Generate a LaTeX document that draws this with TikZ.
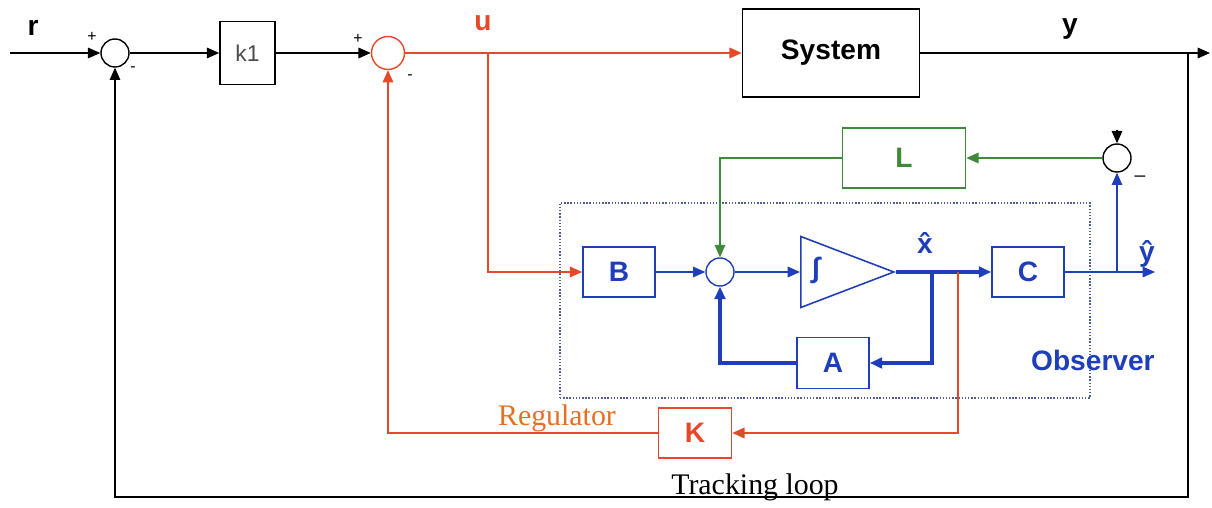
\documentclass[tikz,border=0pt]{standalone}
\usepackage{fontspec}
\setmainfont{Liberation Serif}
\setsansfont{Liberation Sans}
\usepackage{tikz}
\usetikzlibrary{
  arrows.meta,
  positioning,
  shapes.geometric,
  calc
}
\definecolor{regred}{RGB}{232, 72, 42}
\definecolor{regorange}{RGB}{228, 112, 36}
\definecolor{obsblue}{RGB}{30, 62, 186}
\definecolor{gaingreen}{RGB}{62, 138, 58}
\definecolor{dotgrey}{RGB}{80, 95, 150}

\begin{document}
\begin{tikzpicture}[
    block/.style={draw, line width=0.9pt, minimum width=1.44cm, minimum height=1cm,
      inner sep=0pt, font=\sffamily\bfseries\fontsize{16}{18}\selectfont},
    sumnode/.style={circle, draw, line width=0.8pt, minimum size=0.56cm, inner sep=0pt},
    sig/.style={-{Triangle[length=7pt, width=6pt]}, line width=0.8pt},
    thickline/.style={line width=1.8pt},
    signlbl/.style={font=\sffamily\fontsize{9}{10}\selectfont, inner sep=0pt},
    varlbl/.style={font=\sffamily\bfseries\fontsize{16}{18}\selectfont, inner sep=0pt},
    serlbl/.style={font=\fontsize{17}{19}\selectfont, inner sep=0pt}
  ]
  \useasboundingbox (0, 0) rectangle (24.24, 10.16);
  % ---------- OBSERVER FRAME ----------
  \node[draw=dotgrey, densely dotted, line width=0.8pt, minimum width=10.6cm,
    minimum height=3.9cm] (obsbox) at (16.5, 4.15) {};
  \node[varlbl, text=obsblue, anchor=east] (obslbl) at (23.1, 2.96) {Observer};

  % ---------- MAIN FORWARD PATH ----------
  \coordinate (rin) at (0.2, 9.1);
  \node[varlbl] (rlbl) at (0.66, 9.6) {r};
  \node[sumnode] (s1) at (2.3, 9.1) {};
  \node[signlbl] (s1p) at (1.84, 9.42) {+};
  \node[signlbl] (s1m) at (2.66, 8.78) {-};
  \node[block, minimum width=1.1cm, minimum height=1.26cm,
    font=\sffamily\fontsize{13}{15}\selectfont, text=black!70] (k1) at (4.95, 9.1) {k1};
  \node[sumnode, draw=regred, minimum size=0.66cm] (s2) at (7.76, 9.1) {};
  \node[signlbl] (s2p) at (7.16, 9.38) {+};
  \node[signlbl] (s2m) at (8.2, 8.62) {-};
  \node[varlbl, text=regred] (ulbl) at (9.66, 9.7) {u};
  \coordinate (ubr) at (9.76, 9.1);
  \node[block, minimum width=3.54cm, minimum height=1.76cm] (sys) at (16.62, 9.1) {System};
  \node[varlbl] (ylbl) at (21.4, 9.58) {y};
  \coordinate (ybr) at (23.76, 9.1);
  \coordinate (yout) at (24.2, 9.1);
  \coordinate (ybot) at (23.76, 0.22);

  % ---------- OBSERVER BLOCKS ----------
  \node[block, draw=obsblue, text=obsblue] (B) at (12.38, 4.72) {B};
  \node[sumnode, draw=obsblue] (s4) at (14.4, 4.72) {};
  \node[draw=obsblue, line width=0.9pt, isosceles triangle, isosceles triangle stretches,
    minimum width=1.42cm, minimum height=1.86cm, inner sep=0pt, anchor=west]
    (integ) at (16.0, 4.72) {};
  \node[varlbl, text=obsblue] (intsym) at (16.32, 4.76) {∫};
  \node[varlbl, text=obsblue] (xhat) at (18.5, 5.3) {\^{x}};
  \coordinate (xbr) at (18.64, 4.72);
  \coordinate (kbr) at (19.16, 4.72);
  \node[block, draw=obsblue, text=obsblue] (C) at (20.56, 4.72) {C};
  \node[block, draw=obsblue, text=obsblue, minimum height=1.02cm] (A) at (16.66, 2.9) {A};
  \coordinate (ybrh) at (22.34, 4.72);
  \coordinate (yhatout) at (23.1, 4.72);
  \node[varlbl, text=obsblue] (yhat) at (22.94, 5.08) {\^{y}};
  \node[sumnode] (s3) at (22.34, 7.0) {};
  \coordinate (s3top) at (22.34, 7.55);
  \node[signlbl, font=\sffamily\fontsize{11}{12}\selectfont] (s3m) at (22.8, 6.58) {–};
  \node[block, draw=gaingreen, text=gaingreen, minimum width=2.46cm, minimum height=1.2cm]
    (L) at (18.08, 7.0) {L};

  % ---------- REGULATOR ----------
  \node[block, draw=regred, text=regred, minimum width=1.46cm] (K) at (13.9, 1.5) {K};
  \node[serlbl, text=regorange] (reglbl) at (11.14, 1.8) {Regulator};
  \node[serlbl] (trklbl) at (15.1, 0.42) {Tracking loop};

  % ---------- CONNECTIONS ----------
  \draw[sig] (rin) -- (s1);
  \draw[sig] (s1) -- (k1);
  \draw[sig] (k1) -- (s2);
  \draw[sig, regred, line width=1pt] (s2) -- (sys);
  \draw[sig, regred] (ubr) |- (B);
  \draw[sig] (sys) -- (yout);
  \draw[sig] (ybr) -- (ybot) -| (s1);

  \draw[sig, obsblue] (B) -- (s4);
  \draw[sig, obsblue] (s4) -- (integ.west);
  \draw[sig, obsblue, thickline] (integ.apex) -- (C);
  \draw[sig, obsblue, thickline] (xbr) |- (A);
  \draw[sig, obsblue, thickline] (A) -| (s4);
  \draw[sig, obsblue] (C) -- (yhatout);
  \draw[sig, obsblue] (ybrh) -- (s3);
  \draw[sig] (s3top) -- (s3);
  \draw[sig, gaingreen] (s3) -- (L);
  \draw[sig, gaingreen] (L) -| (s4);

  \draw[sig, regred, line width=1pt] (kbr) |- (K);
  \draw[sig, regred, line width=1pt] (K) -| (s2);
\end{tikzpicture}
\end{document}
